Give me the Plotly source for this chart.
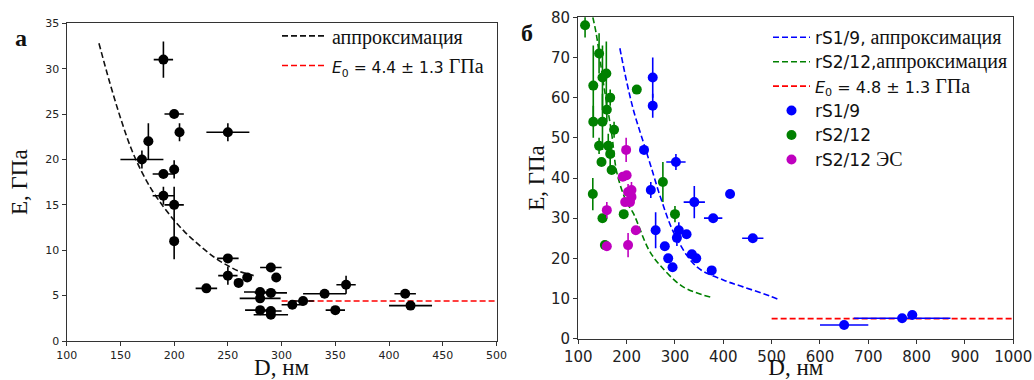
import plotly.graph_objects as go

# ---------------- panel a ----------------
a_D = [190, 200, 205, 250, 176, 170, 190, 200, 190, 200, 200, 250, 250, 260, 268, 230,
       290, 295, 280, 290, 280, 280, 290, 290, 310, 320, 340, 360, 350, 415, 420]
a_E = [31, 25, 23, 23, 22, 20, 18.4, 18.9, 16, 15, 11, 9.1, 7.2, 6.4, 7.0, 5.8,
       8.1, 7.0, 5.4, 5.3, 4.7, 3.4, 3.3, 2.9, 4.0, 4.4, 5.2, 6.2, 3.4, 5.2, 3.9]
a_Dx = [9, 9, 2, 20, 2, 20, 10, 2, 10, 9, 2, 10, 9, 3, 3, 10,
        10, 2, 15, 15, 19, 14, 10, 16, 10, 10, 20, 9, 9, 10, 20]
a_Ey = [2, 0.3, 1, 1, 2, 1, 0.3, 1, 1, 2, 2, 0.3, 1, 0.3, 0.5, 0.3,
        0.5, 0.3, 0.3, 0.3, 0.3, 0.3, 0.3, 0.3, 0.3, 0.3, 0.3, 1, 0.3, 0.3, 0.3]
a_fit_D = [130, 140, 150, 160, 170, 180, 190, 200, 210, 220, 230, 240, 250, 260, 274]
a_fit_E = [32.8, 28.5, 24.6, 21.2, 18.6, 16.5, 14.8, 13.3, 12.0, 10.9, 9.9, 9.0, 8.3, 7.7, 7.2]
a_E0_D = [300, 500]
a_E0_E = [4.4, 4.4]

# ---------------- panel b ----------------
b1_D = [254, 254, 236, 302, 340, 250, 260, 279, 286, 295, 304, 308, 324, 335, 344,
        379, 376, 414, 461, 650, 770, 791]
b1_E = [65, 58, 47, 44, 34, 37, 27, 23, 20, 17.8, 25.1, 27, 26, 21, 20,
        30, 17, 36, 25, 3.4, 5.1, 5.9]
b1_Dx = [0, 0, 0, 20, 22, 0, 0, 0, 0, 7, 0, 0, 0, 0, 0, 19, 0, 0, 22, 50, 100, 10]
b1_Ey = [5, 3, 1, 2, 4, 2, 4.5, 1, 1, 1, 2, 2, 1, 1, 1, 1, 1, 1, 1, 0.3, 0.3, 0.5]

b2_D = [114, 131, 131, 143, 150, 158, 150, 143, 162, 166, 159, 174, 166, 148, 169,
        221, 130, 150, 155, 194, 275, 300]
b2_E = [78, 63, 54, 71, 65, 66, 54, 48, 48, 60, 57, 52, 46, 44, 42,
        62, 36, 30, 23.3, 31, 39, 31]
b2_Ey = [3, 10, 4, 5, 8, 8, 7, 2, 3, 2, 3, 2, 3, 1, 1, 1, 4, 1, 1, 1, 5, 2]

b3_D = [199, 192, 200, 210, 203, 197, 207, 210, 159, 219, 203, 159]
b3_E = [47, 40.3, 40.7, 37, 36.5, 34, 34, 35.3, 32, 27, 23.3, 23]
b3_Ey = [3, 1, 1, 2, 2, 1, 1, 2, 2, 1, 3, 1]

b1_fit_D = [186, 200, 215, 233, 250, 272, 300, 345, 400, 441, 497, 514]
b1_fit_E = [72.3, 64.0, 56.5, 49.5, 43.0, 34.5, 25.8, 17.9, 14.6, 12.9, 10.6, 9.8]
b2_fit_D = [130, 137, 152, 169, 180, 200, 214, 246, 269, 317, 375]
b2_fit_E = [80.0, 76.0, 63.6, 51.1, 41.2, 34.0, 31.2, 22.1, 18.3, 12.9, 10.3]
b_E0_D = [500, 1000]
b_E0_E = [5.0, 5.0]

BLUE, GREEN, MAG, RED = "#0000ff", "#008000", "#bf00bf", "#ff0000"
SERIF = "Liberation Serif"
SANS = "DejaVu Sans"


def sans(t, size=16):
    return f"<span style='font-family:DejaVu Sans;font-size:{size}px'>{t}</span>"


def serif(t, size=20):
    return f"<span style='font-family:Liberation Serif;font-size:{size}px'>{t}</span>"


fig = go.Figure()


def errscatter(x, y, ex, ey, color, name, xa, ya, legend, show, size):
    return go.Scatter(
        x=x, y=y, mode="markers", name=name, xaxis=xa, yaxis=ya, legend=legend,
        showlegend=show,
        marker=dict(color=color, size=size, line=dict(width=0)),
        error_x=dict(type="data", array=ex, visible=True, color=color, thickness=1.6, width=0),
        error_y=dict(type="data", array=ey, visible=True, color=color, thickness=1.6, width=0),
    )


# panel a
fig.add_trace(go.Scatter(x=a_fit_D, y=a_fit_E, mode="lines", xaxis="x", yaxis="y",
                         line=dict(color="#111111", dash="6px,3px", width=1.6, shape="spline"),
                         name=serif("аппроксимация"), legend="legend"))
fig.add_trace(go.Scatter(x=a_E0_D, y=a_E0_E, mode="lines", xaxis="x", yaxis="y",
                         line=dict(color=RED, dash="6px,3px", width=1.6),
                         name=sans("<i>E</i><sub>0</sub> = 4.4 ± 1.3", 15.5) + serif(" ГПа"),
                         legend="legend"))
fig.add_trace(errscatter(a_D, a_E, a_Dx, a_Ey, "#000000", "data", "x", "y", "legend", False, 10))

# panel b
fig.add_trace(go.Scatter(x=b1_fit_D, y=b1_fit_E, mode="lines", xaxis="x2", yaxis="y2",
                         line=dict(color=BLUE, dash="6px,3px", width=1.6, shape="spline"),
                         name=sans("rS1/9,", 17) + serif(" аппроксимация"), legend="legend2"))
fig.add_trace(go.Scatter(x=b2_fit_D, y=b2_fit_E, mode="lines", xaxis="x2", yaxis="y2",
                         line=dict(color=GREEN, dash="6px,3px", width=1.6, shape="spline"),
                         name=sans("rS2/12,", 17) + serif("аппроксимация"), legend="legend2"))
fig.add_trace(go.Scatter(x=b_E0_D, y=b_E0_E, mode="lines", xaxis="x2", yaxis="y2",
                         line=dict(color=RED, dash="6px,3px", width=1.6),
                         name=sans("<i>E</i><sub>0</sub> = 4.8 ± 1.3", 16) + serif(" ГПа"),
                         legend="legend2"))
fig.add_trace(errscatter(b1_D, b1_E, b1_Dx, b1_Ey, BLUE, sans("rS1/9", 17),
                         "x2", "y2", "legend2", True, 10))
fig.add_trace(errscatter(b2_D, b2_E, [0] * len(b2_D), b2_Ey, GREEN, sans("rS2/12", 17),
                         "x2", "y2", "legend2", True, 10))
fig.add_trace(errscatter(b3_D, b3_E, [0] * len(b3_D), b3_Ey, MAG, sans("rS2/12", 17) + serif(" ЭС"),
                         "x2", "y2", "legend2", True, 10))

W, H = 1034, 380
axcol = "#333333"


def ax(dom, rng, dt, fs, anchor, title, tsize, standoff):
    return dict(domain=dom, range=rng, dtick=dt, tick0=0, anchor=anchor, showgrid=False, zeroline=False,
                showline=True, linecolor=axcol, linewidth=1.3, mirror=True,
                ticks="outside", ticklen=4, tickcolor=axcol, tickwidth=1.2,
                tickfont=dict(family=SANS, size=fs, color="#222222"),
                title=dict(text=title, font=dict(family=SERIF, size=tsize, color="#111111"),
                           standoff=standoff))


fig.update_layout(
    width=W, height=H, margin=dict(l=0, r=0, t=0, b=0, autoexpand=False),
    paper_bgcolor="white", plot_bgcolor="white",
    xaxis=ax([66.7 / W, 496.5 / W], [100, 500], 50, 11, "y", "D, нм", 23, 6),
    yaxis=ax([(H - 341) / H, (H - 23.3) / H], [0, 35], 5, 11, "x", "E, ГПа", 23, 11),
    xaxis2=ax([578.3 / W, 1013.3 / W], [100, 1000], 100, 15, "y2", "D, нм", 23, 4),
    yaxis2=ax([(H - 338.7) / H, (H - 17.3) / H], [0, 80], 10, 15, "x2", "E, ГПа", 23, 0),
    legend=dict(x=277 / W, y=(H - 16) / H, xanchor="left", yanchor="top",
                bgcolor="rgba(0,0,0,0)", font=dict(family=SERIF, size=20.5, color="#111111"),
                tracegroupgap=0, itemwidth=45),
    legend2=dict(x=768 / W, y=(H - 20) / H, xanchor="left", yanchor="top",
                 bgcolor="rgba(0,0,0,0)", font=dict(family=SERIF, size=16.5, color="#111111"),
                 tracegroupgap=0, itemwidth=37),
    showlegend=True,
)

for txt, xx, yy in [("<b>а</b>", 13 / W, (H - 38) / H), ("<b>б</b>", 519 / W, (H - 33) / H)]:
    fig.add_annotation(text=txt, x=xx, y=yy, xref="paper", yref="paper",
                       showarrow=False, xanchor="left", yanchor="middle",
                       font=dict(family=SERIF, size=24, color="#111111"))

fig.write_html("out.html")
